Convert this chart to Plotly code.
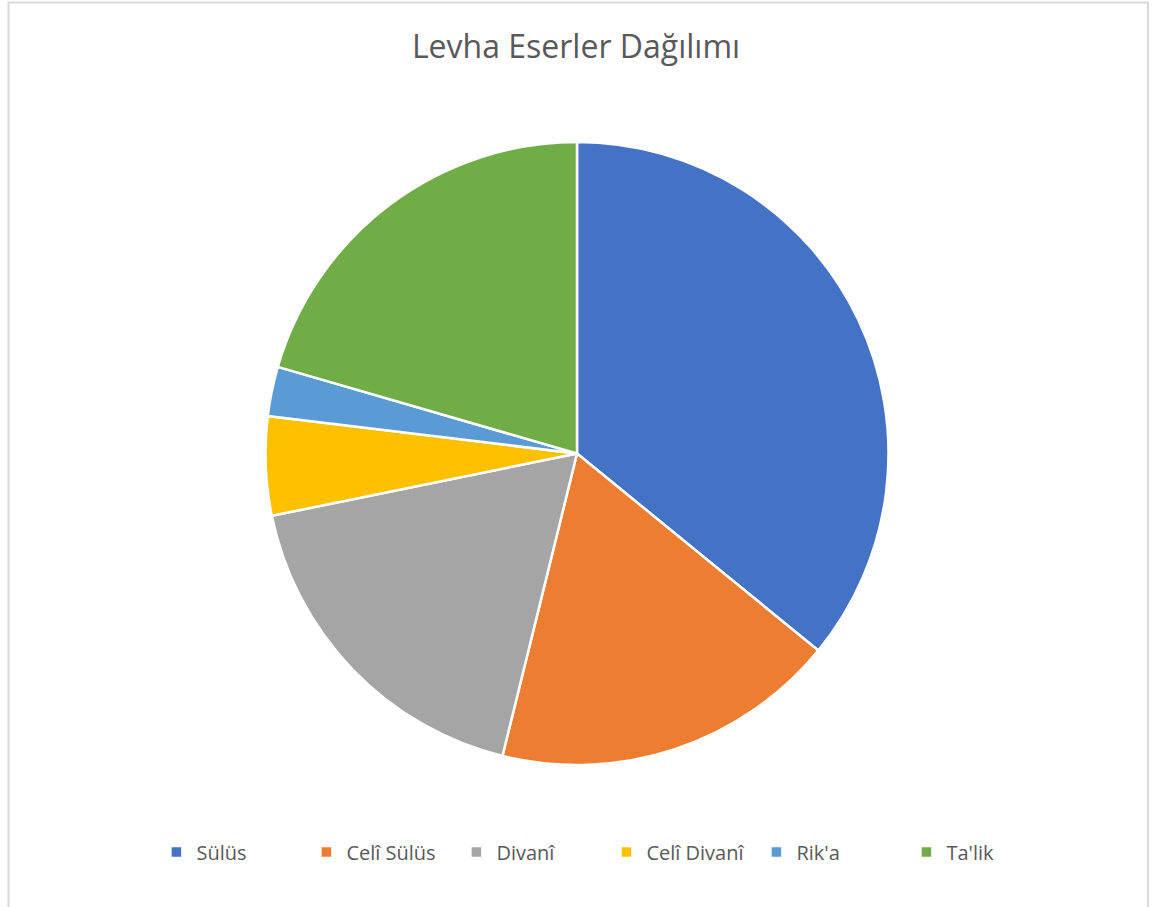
import plotly.graph_objects as go

labels = ["Sülüs", "Celî Sülüs", "Divanî", "Celî Divanî", "Rik'a", "Ta'lik"]
values = [14, 7, 7, 2, 1, 8]
colors = ["#4472C4", "#ED7D31", "#A5A5A5", "#FFC000", "#5B9BD5", "#70AD47"]

W, H = 1152, 907
cx, cy, r = 577, 453.5, 311.5

fig = go.Figure(go.Pie(
    labels=labels, values=values, sort=False, direction="clockwise", rotation=0,
    marker=dict(colors=colors, line=dict(color="white", width=2.5)),
    textinfo="none", hoverinfo="label+value+percent",
    domain=dict(x=[(cx - r) / W, (cx + r) / W], y=[(H - cy - r) / H, (H - cy + r) / H]),
))

fig.update_layout(
    width=W, height=H,
    margin=dict(l=0, r=0, t=0, b=0),
    paper_bgcolor="white", plot_bgcolor="white",
    font=dict(family="Open Sans", color="#595959"),
    title=dict(text="Levha Eserler Dağılımı", x=0.5, xanchor="center",
               y=(H - 47) / H, yanchor="middle",
               font=dict(size=32, color="#595959", family="Open Sans")),
    showlegend=True,
    legend=dict(orientation="h", x=0.5264, xanchor="center", y=(H - 852) / H, yanchor="middle",
                entrywidth=105, entrywidthmode="pixels",
                font=dict(size=20, color="#595959"), bgcolor="rgba(0,0,0,0)"),
    shapes=[dict(type="rect", xref="paper", yref="paper",
                 x0=8.5 / W, x1=1148 / W, y0=-0.01, y1=(H - 2.5) / H,
                 line=dict(color="#D9D9D9", width=2), fillcolor="rgba(0,0,0,0)", layer="below")],
)

fig.write_html("out.html", config={"displayModeBar": False},
               post_script="document.body.style.margin='0';")
